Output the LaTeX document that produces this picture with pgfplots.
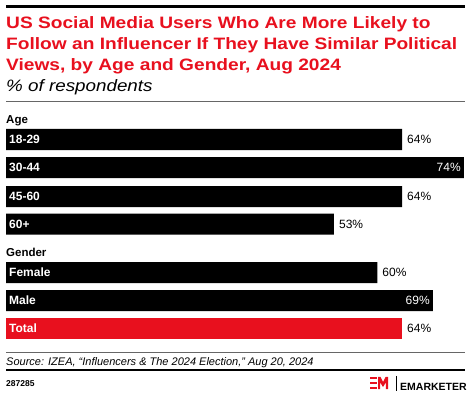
\documentclass[border=0pt]{standalone}
\usepackage{pgfplots}
\pgfplotsset{compat=1.18}
\usepackage{fontspec}
\setmainfont{Liberation Sans}
\newfontfamily\titlefont[FakeStretch=1.16]{Liberation Sans}
\newfontfamily\subfont[FakeStretch=1.14]{Liberation Sans}
\definecolor{emred}{HTML}{E8101E}
\begin{document}
\begin{tikzpicture}[x=1pt,y=1pt,
  catlab/.style={anchor=west, text=white, font=\bfseries\fontsize{12}{14}\selectfont, inner sep=0pt, xshift=3pt}]
\fill[white] (0,0) rectangle (470,398);
\begin{axis}[at={(0,0)}, anchor=south west, scale only axis,
  width=470pt, height=398pt,
  xmin=-0.9697, xmax=74.99, ymin=0, ymax=398, y dir=reverse,
  hide axis, clip=false,
  xbar, bar shift=0pt, bar width=21pt,
  point meta=x,
  nodes near coords={\pgfmathprintnumber[assume math mode=true]{\pgfplotspointmeta}\%},
  every node near coord/.append style={font=\fontsize{12}{14}\selectfont, inner sep=0pt},
]
% black bars, label outside
\addplot[fill=black, draw=none, every node near coord/.append style={anchor=west, xshift=5pt, black}]
  coordinates {(64,139.5) (64,196.5) (53,224) (60,272.5)};
% black bars, label inside
\addplot[fill=black, draw=none, every node near coord/.append style={anchor=east, xshift=-3pt, white}]
  coordinates {(74,167.5) (69,300.5)};
% total
\addplot[fill=emred, draw=none, every node near coord/.append style={anchor=west, xshift=5pt, black}]
  coordinates {(64,328.5)};
% category labels
\node[catlab] at (axis cs:0,139.5) {18-29};
\node[catlab] at (axis cs:0,167.5) {30-44};
\node[catlab] at (axis cs:0,196.5) {45-60};
\node[catlab] at (axis cs:0,224) {60+};
\node[catlab] at (axis cs:0,272.5) {Female};
\node[catlab] at (axis cs:0,300.5) {Male};
\node[catlab] at (axis cs:0,328.5) {Total};
\end{axis}
% decorations
\fill[black] (6,398-8.5) rectangle (465,398-5.5);
\begin{scope}[every node/.style={anchor=base west, inner sep=0pt}]
\node[text=emred, font=\titlefont\bfseries\fontsize{16.5}{20}\selectfont] at (6,398-29) {US Social Media Users Who Are More Likely to};
\node[text=emred, font=\titlefont\bfseries\fontsize{16.5}{20}\selectfont] at (6,398-50) {Follow an Influencer If They Have Similar Political};
\node[text=emred, font=\titlefont\bfseries\fontsize{16.5}{20}\selectfont] at (6,398-71) {Views, by Age and Gender, Aug 2024};
\node[font=\subfont\itshape\fontsize{16.5}{19}\selectfont] at (6,398-92) {\% of respondents};
\node[font=\bfseries\fontsize{11.5}{14}\selectfont] at (6,398-123.3) {Age};
\node[font=\bfseries\fontsize{11.5}{14}\selectfont] at (6,398-257) {Gender};
\node[font=\itshape\fontsize{11}{13}\selectfont] at (6,398-365.5) {Source: IZEA, ``Influencers \& The 2024 Election,'' Aug 20, 2024};
\node[font=\bfseries\fontsize{8.5}{10}\selectfont] at (6,398-386.5) {287285};
\node[font=\bfseries\fontsize{10.5}{12}\selectfont] at (400,398-390) {EMARKETER};
\end{scope}
\draw[black!60, line width=0.8pt] (6,398-101.7) -- (465,398-101.7);
\draw[black!60, line width=0.8pt] (6,398-352.7) -- (465,398-352.7);
\fill[black] (6,398-371.2) rectangle (465,398-368.8);
% logo
\draw[black, line width=0.7pt] (396,398-376) -- (396,398-391);
\fill[emred] (370,398-377) rectangle (377,398-379.2);
\fill[emred] (370,398-382) rectangle (377,398-384.2);
\fill[emred] (370,398-387) rectangle (377,398-389.2);
\fill[emred] (378,398-389.2) -- (378,398-377) -- (380.5,398-377) -- (383,398-382) -- (385.5,398-377) -- (388,398-377) -- (388,398-389.2) -- (385.8,398-389.2) -- (385.8,398-382.5) -- (383,398-387) -- (380.2,398-382.5) -- (380.2,398-389.2) -- cycle;
\end{tikzpicture}
\end{document}
